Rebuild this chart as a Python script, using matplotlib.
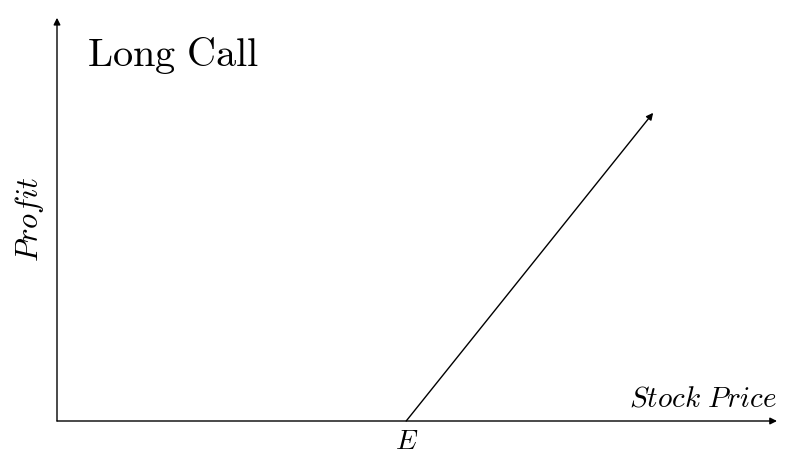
import matplotlib.pyplot as plt

plt.rcParams['mathtext.fontset'] = 'cm'

# payoff data (stock price vs profit), strike at E
strike = 4.85
stock = [4.85, 8.28]
profit = [0.0, 4.28]
x_max = 10.0
y_max = 5.6

fig = plt.figure(figsize=(8.02, 4.63), dpi=100)
ax = fig.add_axes([0, 0, 1, 1])
ax.set_xlim(-57 / 72, 745 / 72)
ax.set_ylim(-42 / 72, 421 / 72)
ax.axis('off')

arrow = dict(arrowstyle='-|>', color='black', lw=1.0, mutation_scale=10,
             shrinkA=0, shrinkB=0)

# axes
ax.annotate('', xy=(x_max, 0), xytext=(0, 0), arrowprops=arrow)
ax.annotate('', xy=(0, y_max), xytext=(0, 0), arrowprops=arrow)

# payoff line
ax.annotate('', xy=(stock[1], profit[1]), xytext=(stock[0], profit[0]),
            arrowprops=arrow)

ax.text(0.42, 5.08, r'$\mathrm{Long\ Call}$', fontsize=29, ha='left', va='center')
ax.text(x_max, 0.12, r'$Stock\ Price$', fontsize=21, ha='right', va='bottom')
ax.text(strike, -0.09, r'$E$', fontsize=20, ha='center', va='top')
ax.text(-0.38, 2.8, r'$Profit$', fontsize=22, rotation=90, ha='center', va='center')

fig.savefig('out.png', dpi=100)
